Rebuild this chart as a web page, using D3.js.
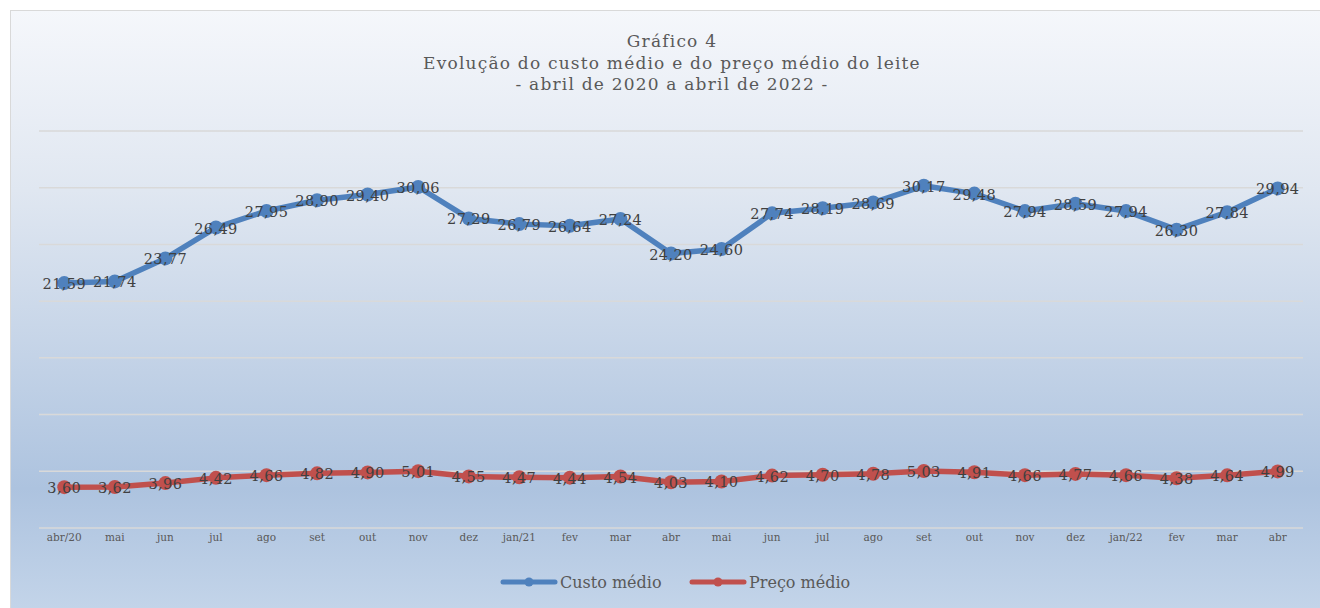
<!DOCTYPE html>
<html><head><meta charset="utf-8">
<script src="https://cdn.jsdelivr.net/npm/d3@7"></script>
<style>html,body{margin:0;padding:0;background:#fff;}svg{display:block;}</style>
</head><body>
<svg id="chart" width="1320" height="608"></svg>
<script>
const categories = ["abr/20","mai","jun","jul","ago","set","out","nov","dez","jan/21","fev","mar","abr","mai","jun","jul","ago","set","out","nov","dez","jan/22","fev","mar","abr"];
const custoMedio = [21.59,21.74,23.77,26.49,27.95,28.90,29.40,30.06,27.29,26.79,26.64,27.24,24.20,24.60,27.74,28.19,28.69,30.17,29.48,27.94,28.59,27.94,26.30,27.84,29.94];
const precoMedio = [3.60,3.62,3.96,4.42,4.66,4.82,4.90,5.01,4.55,4.47,4.44,4.54,4.03,4.10,4.62,4.70,4.78,5.03,4.91,4.66,4.77,4.66,4.38,4.64,4.99];
const yTicks = [0,5,10,15,20,25,30,35];
const titleLines = ["Gráfico 4","Evolução do custo médio e do preço médio do leite","- abril de 2020 a abril de 2022 -"];
const seriesNames = ["Custo médio","Preço médio"];

const svg = d3.select("#chart");
const defs = svg.append("defs");
const grad = defs.append("linearGradient").attr("id","bg").attr("x1",0).attr("y1",0).attr("x2",0).attr("y2",1);
grad.append("stop").attr("offset","0%").attr("stop-color","#f5f7fb");
grad.append("stop").attr("offset","30%").attr("stop-color","#e0e7f1");
grad.append("stop").attr("offset","80%").attr("stop-color","#adc3df");
grad.append("stop").attr("offset","100%").attr("stop-color","#c3d4e9");

svg.append("rect").attr("x",10.5).attr("y",10.5).attr("width",1310).attr("height",598)
  .attr("fill","url(#bg)").attr("stroke","#d9d9d9").attr("stroke-width",1);

const x = d3.scaleBand().domain(d3.range(categories.length)).range([39,1303]);
const y = d3.scaleLinear().domain([0,35]).range([528,131]);
const cx = i => x(i) + x.bandwidth()/2;

// gridlines
svg.append("g").selectAll("line").data(yTicks).join("line")
  .attr("x1",39).attr("x2",1303).attr("y1",d=>y(d)).attr("y2",d=>y(d))
  .attr("stroke","#d9d9d9").attr("stroke-width",1.5);

// x axis labels
const xAxis = d3.axisBottom(x).tickSize(0).tickFormat(i=>categories[i]);
const gx = svg.append("g").attr("transform","translate(0,531)").call(xAxis);
gx.select(".domain").remove();
gx.selectAll("text").attr("font-family","DejaVu Serif").attr("font-size",10.5).attr("fill","#595959");

// title
svg.append("g").selectAll("text").data(titleLines).join("text")
  .attr("x",672).attr("y",(d,i)=>47+i*21.5).attr("text-anchor","middle")
  .attr("font-family","DejaVu Serif").attr("font-size",17).attr("letter-spacing",1.2)
  .attr("fill","#595959").text(d=>d);

const series = [{v:custoMedio,c:"#4f81bd"},{v:precoMedio,c:"#c0504d"}];
const line = d3.line().x((d,i)=>cx(i)).y(d=>y(d));
series.forEach(s=>{
  const g = svg.append("g");
  g.append("path").attr("d",line(s.v)).attr("fill","none").attr("stroke",s.c).attr("stroke-width",5.5).attr("stroke-linejoin","round").attr("stroke-linecap","round");
  g.selectAll("circle").data(s.v).join("circle").attr("cx",(d,i)=>cx(i)).attr("cy",d=>y(d)).attr("r",7).attr("fill",s.c);
  g.selectAll("text").data(s.v).join("text").attr("x",(d,i)=>cx(i)).attr("y",d=>y(d)+6)
    .attr("text-anchor","middle").attr("font-family","DejaVu Serif").attr("font-size",14.5).attr("letter-spacing",0.4).attr("fill","#404040")
    .text(d=>d.toFixed(2).replace(".",","));
});

// legend
const legend = [{n:seriesNames[0],c:"#4f81bd",x:501},{n:seriesNames[1],c:"#c0504d",x:690}];
const lg = svg.append("g");
legend.forEach(l=>{
  lg.append("line").attr("x1",l.x+2).attr("x2",l.x+54).attr("y1",582).attr("y2",582).attr("stroke",l.c).attr("stroke-width",5).attr("stroke-linecap","round");
  lg.append("circle").attr("cx",l.x+28).attr("cy",582).attr("r",4.5).attr("fill",l.c);
  lg.append("text").attr("x",l.x+59).attr("y",588).attr("font-family","DejaVu Serif").attr("font-size",16).attr("fill","#595959").text(l.n);
});
</script>
</body></html>
